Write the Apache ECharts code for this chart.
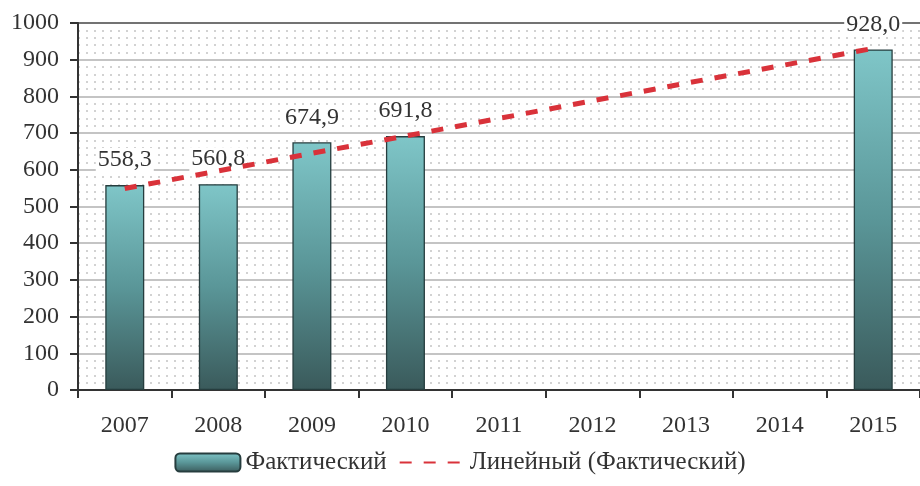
<!DOCTYPE html>
<html><head><meta charset="utf-8">
<script src="https://cdn.jsdelivr.net/npm/echarts@6/dist/echarts.min.js"></script>
<style>html,body{margin:0;padding:0;background:#fff}#c{width:920px;height:486px}</style>
</head><body><div id="c"></div>
<script>
const categories = ['2007','2008','2009','2010','2011','2012','2013','2014','2015'];
const actual = [558.3, 560.8, 674.9, 691.8, null, null, null, null, 928.0];
const trend = [549, 597, 645, 692, 740, 788, 836, 883, 931];
const seriesNames = ['Фактический', 'Линейный (Фактический)'];

const FONT = "'Liberation Serif', 'Times New Roman', serif";
const chart = echarts.init(document.getElementById('c'), null, {renderer:'canvas'});
const gridColors = ['#b0b0b0','#b0b0b0','#b0b0b0','#b0b0b0','#b0b0b0','#b0b0b0','#b0b0b0','#b0b0b0','#b0b0b0','#b0b0b0','#444'];
const barGrad = new echarts.graphic.LinearGradient(0,0,0,1,[{offset:0,color:'#7fc6c8'},{offset:0.5,color:'#5a9698'},{offset:1,color:'#3a5a5b'}]);
chart.setOption({
  animation:false,
  backgroundColor:'#fff',
  textStyle:{fontFamily:FONT},
  grid:{left:78,right:-5,top:23,bottom:96,containLabel:false},
  legend:{
    bottom:6, left:'center', itemWidth:65, itemHeight:18, itemGap:12,
    textStyle:{fontFamily:FONT,fontSize:25,color:'#333'},
    data:[{name:seriesNames[0]},{name:seriesNames[1],itemStyle:{opacity:0}}]
  },
  xAxis:{
    type:'category', data:categories,
    axisLine:{lineStyle:{color:'#333',width:2}},
    axisTick:{show:true,length:8,lineStyle:{color:'#333',width:2}},
    axisLabel:{fontFamily:FONT,fontSize:24,color:'#333',margin:24},
    splitLine:{show:false}
  },
  yAxis:{
    type:'value', min:0, max:1000, interval:100,
    axisLine:{show:true,lineStyle:{color:'#333',width:2}},
    axisTick:{show:true,length:8,lineStyle:{color:'#333',width:2}},
    axisLabel:{fontFamily:FONT,fontSize:24,color:'#333',margin:19,formatter:v=>String(v)},
    splitLine:{show:true,lineStyle:{color:gridColors,width:1.5}},
    minorTick:{show:false,splitNumber:5},
    minorSplitLine:{show:true,lineStyle:{color:'#c4c4c4',width:1.5,type:[2,6]}}
  },
  series:[
    {
      name:seriesNames[0], type:'bar', data:actual, barWidth:39,
      itemStyle:{color:barGrad,borderColor:'#263d3e',borderWidth:1.3},
      label:{show:true,position:'top',distance:13,fontFamily:FONT,fontSize:24,color:'#333',
        backgroundColor:'#fff',padding:[0,2],
        formatter:p=>p.value==null?'':p.value.toFixed(1).replace('.',',')},
      z:2
    },
    {
      name:seriesNames[1], type:'line', data:trend, symbol:'none',
      lineStyle:{color:'#d9323a',width:5,type:[12,12]},
      itemStyle:{color:'#d9323a'},
      z:3
    }
  ]
});
</script></body></html>
